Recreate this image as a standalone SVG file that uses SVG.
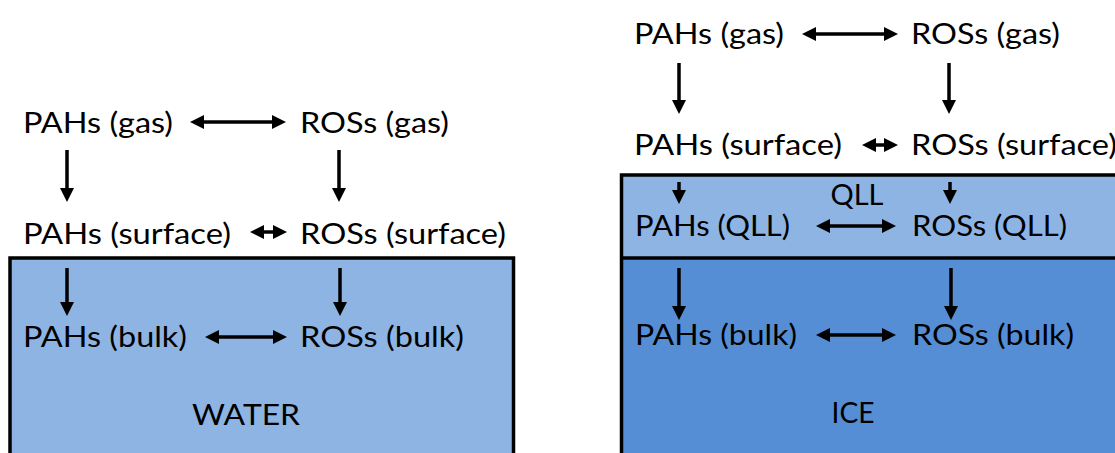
<svg xmlns="http://www.w3.org/2000/svg" width="1115" height="453" viewBox="0 0 1115 453">
<style>
text{font-family:Lato,"Liberation Sans",sans-serif;font-size:29px;fill:#000}
.c{text-anchor:middle}
.ln{stroke:#000;stroke-width:3.5;fill:none}
.box{stroke:#000;stroke-width:3.5}
</style>
<defs>
<marker id="ah" markerUnits="userSpaceOnUse" markerWidth="16" markerHeight="14" refX="3" refY="7" orient="auto-start-reverse" viewBox="0 0 14 14">
<path d="M0,0 L14,7 L0,14 z" fill="#000"/>
</marker>
</defs>
<g id="water">
<rect class="box" x="10" y="258" width="503.5" height="220" fill="#8EB4E3"/>
<text class="c" x="246" y="425" textLength="108" lengthAdjust="spacingAndGlyphs">WATER</text>
</g>
<g id="ice">
<rect x="621.5" y="175" width="520" height="83" fill="#8EB4E3"/>
<rect x="621.5" y="258" width="520" height="220" fill="#558ED5"/>
<rect class="box" x="621.5" y="175" width="520" height="303" fill="none"/>
<line class="box" x1="621.5" y1="258" x2="1141" y2="258"/>
<text class="c" x="857" y="205" textLength="53" lengthAdjust="spacingAndGlyphs">QLL</text>
<text class="c" x="853" y="423" textLength="43" lengthAdjust="spacingAndGlyphs">ICE</text>
</g>
<g id="L-pah-gas"><text x="23" y="133" textLength="150" lengthAdjust="spacingAndGlyphs">PAHs (gas)</text></g>
<g id="L-ros-gas"><text x="300" y="133" textLength="149" lengthAdjust="spacingAndGlyphs">ROSs (gas)</text></g>
<g id="L-pah-surf"><text x="23" y="244" textLength="208" lengthAdjust="spacingAndGlyphs">PAHs (surface)</text></g>
<g id="L-ros-surf"><text x="300" y="244" textLength="206" lengthAdjust="spacingAndGlyphs">ROSs (surface)</text></g>
<g id="L-pah-bulk"><text x="23" y="347" textLength="164" lengthAdjust="spacingAndGlyphs">PAHs (bulk)</text></g>
<g id="L-ros-bulk"><text x="300" y="347" textLength="164" lengthAdjust="spacingAndGlyphs">ROSs (bulk)</text></g>
<g id="R-pah-gas"><text x="634" y="44" textLength="150" lengthAdjust="spacingAndGlyphs">PAHs (gas)</text></g>
<g id="R-ros-gas"><text x="911" y="44" textLength="149" lengthAdjust="spacingAndGlyphs">ROSs (gas)</text></g>
<g id="R-pah-surf"><text x="634" y="155" textLength="208" lengthAdjust="spacingAndGlyphs">PAHs (surface)</text></g>
<g id="R-ros-surf"><text x="911" y="155" textLength="206" lengthAdjust="spacingAndGlyphs">ROSs (surface)</text></g>
<g id="R-pah-qll"><text x="635" y="236" textLength="155" lengthAdjust="spacingAndGlyphs">PAHs (QLL)</text></g>
<g id="R-ros-qll"><text x="912" y="236" textLength="155" lengthAdjust="spacingAndGlyphs">ROSs (QLL)</text></g>
<g id="R-pah-bulk"><text x="635" y="345" textLength="162" lengthAdjust="spacingAndGlyphs">PAHs (bulk)</text></g>
<g id="R-ros-bulk"><text x="912" y="345" textLength="162" lengthAdjust="spacingAndGlyphs">ROSs (bulk)</text></g>
<g id="connectors">
<line class="ln" x1="201" y1="122" x2="275" y2="122" marker-start="url(#ah)" marker-end="url(#ah)"/>
<line class="ln" x1="67" y1="150" x2="67" y2="191" marker-end="url(#ah)"/>
<line class="ln" x1="339" y1="150" x2="339" y2="191" marker-end="url(#ah)"/>
<line class="ln" x1="261" y1="232" x2="276" y2="232" marker-start="url(#ah)" marker-end="url(#ah)"/>
<line class="ln" x1="67" y1="268" x2="67" y2="305" marker-end="url(#ah)"/>
<line class="ln" x1="340" y1="268" x2="340" y2="305" marker-end="url(#ah)"/>
<line class="ln" x1="216" y1="337" x2="276" y2="337" marker-start="url(#ah)" marker-end="url(#ah)"/>
<line class="ln" x1="813" y1="34" x2="887" y2="34" marker-start="url(#ah)" marker-end="url(#ah)"/>
<line class="ln" x1="679" y1="63" x2="679" y2="103" marker-end="url(#ah)"/>
<line class="ln" x1="949" y1="63" x2="949" y2="103" marker-end="url(#ah)"/>
<line class="ln" x1="873" y1="145" x2="887" y2="145" marker-start="url(#ah)" marker-end="url(#ah)"/>
<line class="ln" x1="679" y1="182" x2="679" y2="193" marker-end="url(#ah)"/>
<line class="ln" x1="950" y1="182" x2="950" y2="193" marker-end="url(#ah)"/>
<line class="ln" x1="827" y1="226" x2="885" y2="226" marker-start="url(#ah)" marker-end="url(#ah)"/>
<line class="ln" x1="679" y1="268" x2="679" y2="309" marker-end="url(#ah)"/>
<line class="ln" x1="951" y1="268" x2="951" y2="309" marker-end="url(#ah)"/>
<line class="ln" x1="827" y1="335" x2="885" y2="335" marker-start="url(#ah)" marker-end="url(#ah)"/>
</g>
</svg>
